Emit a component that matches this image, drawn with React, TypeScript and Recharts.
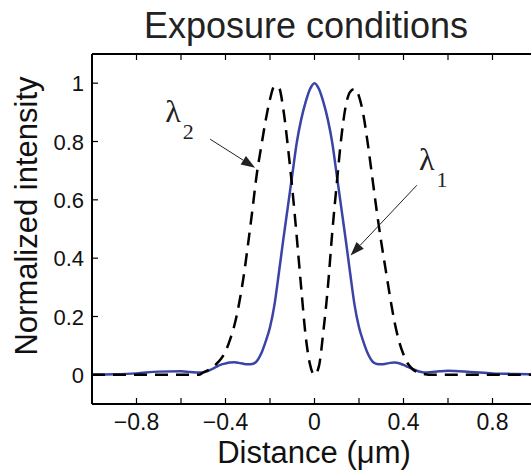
import React from 'react';
import { LineChart, Line, XAxis, YAxis, ReferenceLine, ReferenceDot, Label } from 'recharts';

// distance in µm
const xs = [
    -1, -0.9, -0.8, -0.7, -0.6, -0.56, -0.52,
    -0.5, -0.48, -0.46, -0.44, -0.42, -0.4, -0.38, -0.36, -0.34, -0.32, -0.3,
    -0.28, -0.26, -0.24, -0.22, -0.2, -0.18, -0.16, -0.14, -0.12, -0.1,
    -0.08, -0.06, -0.04, -0.02, 0, 0.02, 0.04, 0.06, 0.08, 0.1,
    0.12, 0.14, 0.16, 0.18, 0.2, 0.22, 0.24, 0.26, 0.28, 0.3,
    0.32, 0.34, 0.36, 0.38, 0.4, 0.42, 0.44, 0.46, 0.48, 0.5,
    0.52, 0.56, 0.6, 0.7, 0.8, 0.9, 1,
];

// λ1 (solid blue)
const lambda1 = [
    0.001, 0.002, 0.005, 0.011, 0.012, 0.01, 0.008,
    0.009, 0.013, 0.02, 0.028, 0.035, 0.039, 0.042, 0.043, 0.041, 0.038, 0.036,
    0.037, 0.046, 0.072, 0.113, 0.163, 0.24, 0.35, 0.465, 0.575, 0.685,
    0.795, 0.875, 0.935, 0.98, 1.0, 0.98, 0.935, 0.875, 0.795, 0.685,
    0.575, 0.465, 0.35, 0.24, 0.163, 0.113, 0.072, 0.046, 0.037, 0.036,
    0.038, 0.041, 0.042, 0.04, 0.034, 0.027, 0.02, 0.014, 0.01, 0.008,
    0.009, 0.012, 0.014, 0.01, 0.005, 0.003, 0.002,
];

// λ2 (dashed black)
const lambda2 = [
    0, 0, 0, 0, 0, 0, 0,
    0.008, 0.015, 0.025, 0.038, 0.055, 0.08, 0.12, 0.17, 0.24, 0.33, 0.44,
    0.56, 0.685, 0.78, 0.87, 0.945, 0.99, 0.985, 0.91, 0.785, 0.64,
    0.475, 0.3, 0.135, 0.035, 0, 0.03, 0.15, 0.3, 0.49, 0.655,
    0.81, 0.92, 0.97, 0.98, 0.955, 0.89, 0.79, 0.675, 0.56, 0.455,
    0.36, 0.265, 0.18, 0.115, 0.07, 0.038, 0.02, 0.01, 0.005, 0.002,
    0, 0, 0, 0, 0, 0, 0,
];

const xTicks = [-0.8, -0.6, -0.4, -0.2, 0, 0.2, 0.4, 0.6, 0.8];
const xLabelled = [-0.8, -0.4, 0, 0.4, 0.8];
const yTicks = [0, 0.2, 0.4, 0.6, 0.8, 1];

// annotation arrows: [from, to] in data units
const arrowL2 = [{ x: -0.469, y: 0.808 }, { x: -0.267, y: 0.71 }];
const arrowL1 = [{ x: 0.46, y: 0.65 }, { x: 0.162, y: 0.409 }];
const labelL2 = { x: -0.671, y: 0.866, sub: '2' };
const labelL1 = { x: 0.47, y: 0.702, sub: '1' };

const data = xs.map((x, i) => ({ x, l1: lambda1[i], l2: lambda2[i] }));

const SANS = '"Liberation Sans", Arial, Helvetica, sans-serif';
const SERIF = '"Liberation Serif", "Times New Roman", serif';

const fmt = (v: number) => (v < 0 ? '\u2212' + Math.abs(v) : String(v));

const BottomTick = (props: any) => {
    const { x, y, payload } = props;
    const v = payload.value;
    return (
        <g>
            <line x1={x} y1={y} x2={x} y2={y - 6} stroke="#000" strokeWidth={1.2} />
            {xLabelled.includes(v) && (
                <text x={x} y={y + 26} textAnchor="middle" fontSize={23} fontFamily={SANS} fill="#111">
                    {fmt(v)}
                </text>
            )}
        </g>
    );
};

const TopTick = (props: any) => {
    const { x, y } = props;
    return <line x1={x} y1={y} x2={x} y2={y + 6} stroke="#000" strokeWidth={1.2} />;
};

const LeftTick = (props: any) => {
    const { x, y, payload } = props;
    return (
        <g>
            <line x1={x} y1={y} x2={x + 6} y2={y} stroke="#000" strokeWidth={1.2} />
            <text x={x - 8} y={y + 8} textAnchor="end" fontSize={22} fontFamily={SANS} fill="#111">
                {fmt(payload.value)}
            </text>
        </g>
    );
};

const Arrow = (p: any) => {
    const { x1, y1, x2, y2 } = p;
    const ang = Math.atan2(y2 - y1, x2 - x1);
    const len = 14;
    const half = 5;
    const bx = x2 - len * Math.cos(ang);
    const by = y2 - len * Math.sin(ang);
    const px = -Math.sin(ang) * half;
    const py = Math.cos(ang) * half;
    return (
        <g>
            <line x1={x1} y1={y1} x2={bx} y2={by} stroke="#222" strokeWidth={1} />
            <polygon points={`${x2},${y2} ${bx + px},${by + py} ${bx - px},${by - py}`} fill="#222" />
        </g>
    );
};

const lambdaText = (sub: string) => (p: any) => (
    <text x={p.cx} y={p.cy} fontFamily={SERIF} fill="#222" fontSize={32}>
        λ
        <tspan dx={2} dy={17} fontSize={22}>{sub}</tspan>
    </text>
);

export default function App() {
    return (
        <div style={{ position: 'fixed', left: 0, top: 0, width: 531, height: 470, overflow: 'hidden', background: '#fff' }}>
            <LineChart width={560} height={470} data={data} margin={{ top: 24, right: 23, bottom: 0, left: 0 }}>
                <XAxis
                    xAxisId="top"
                    orientation="top"
                    dataKey="x"
                    type="number"
                    domain={[-1, 1]}
                    ticks={xTicks}
                    height={30}
                    tickSize={0}
                    tickMargin={0}
                    tickLine={false}
                    tick={<TopTick />}
                    axisLine={{ stroke: '#000', strokeWidth: 2 }}
                    allowDataOverflow
                >
                    <Label
                        content={() => (
                            <text x={306} y={38} textAnchor="middle" fontSize={36} fontFamily={SANS} fill="#222">
                                Exposure conditions
                            </text>
                        )}
                    />
                </XAxis>
                <XAxis
                    dataKey="x"
                    type="number"
                    domain={[-1, 1]}
                    ticks={xTicks}
                    height={66}
                    tickSize={0}
                    tickMargin={0}
                    tickLine={false}
                    tick={<BottomTick />}
                    axisLine={{ stroke: '#000', strokeWidth: 2 }}
                    allowDataOverflow
                >
                    <Label
                        content={() => (
                            <text x={314} y={463} textAnchor="middle" fontSize={31} fontFamily={SANS} fill="#111">
                                Distance (μm)
                            </text>
                        )}
                    />
                </XAxis>
                <YAxis
                    type="number"
                    domain={[-0.1, 1.1]}
                    ticks={yTicks}
                    width={92}
                    tickSize={0}
                    tickMargin={0}
                    tickLine={false}
                    tick={<LeftTick />}
                    axisLine={{ stroke: '#000', strokeWidth: 2 }}
                    allowDataOverflow
                >
                    <Label
                        content={() => (
                            <text
                                x={0}
                                y={0}
                                transform="translate(37 216) rotate(-90)"
                                textAnchor="middle"
                                fontSize={31}
                                fontFamily={SANS}
                                fill="#111"
                            >
                                Normalized intensity
                            </text>
                        )}
                    />
                </YAxis>
                <Line
                    type="monotone"
                    dataKey="l1"
                    stroke="#3a44a6"
                    strokeWidth={2.5}
                    dot={false}
                    activeDot={false}
                    isAnimationActive={false}
                />
                <Line
                    type="monotone"
                    dataKey="l2"
                    stroke="#000"
                    strokeWidth={2.5}
                    strokeDasharray="13 8"
                    dot={false}
                    activeDot={false}
                    isAnimationActive={false}
                />
                <ReferenceLine segment={arrowL2} shape={Arrow} />
                <ReferenceLine segment={arrowL1} shape={Arrow} />
                <ReferenceDot x={labelL2.x} y={labelL2.y} r={0} shape={lambdaText(labelL2.sub)} />
                <ReferenceDot x={labelL1.x} y={labelL1.y} r={0} shape={lambdaText(labelL1.sub)} />
            </LineChart>
        </div>
    );
}
